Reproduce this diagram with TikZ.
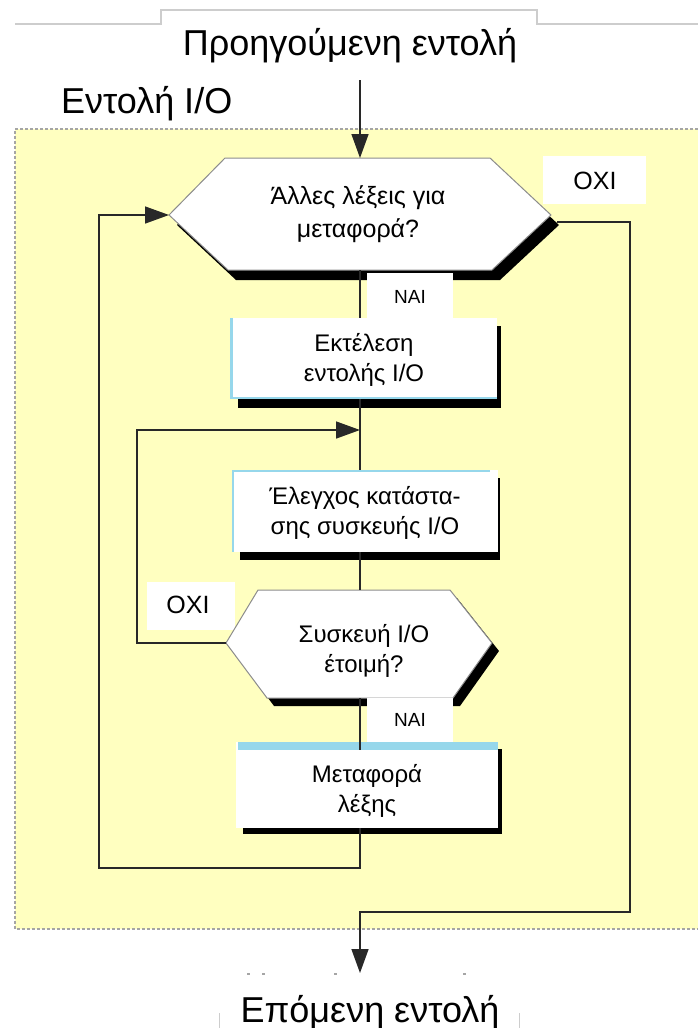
\documentclass[tikz,border=0pt]{standalone}
\usepackage{fontspec}
\setmainfont{Liberation Sans}
\usetikzlibrary{arrows.meta}

\definecolor{panel}{RGB}{255,255,192}
\definecolor{accent}{RGB}{150,215,235}
\definecolor{wire}{RGB}{40,40,40}
\definecolor{frame}{RGB}{140,140,140}
\definecolor{tabline}{RGB}{205,205,205}
\definecolor{dashgray}{RGB}{165,165,165}

\tikzset{
  flow/.style={draw=wire, line width=1.5pt},
  flowarrow/.style={flow, -{Triangle[length=24pt,width=17pt]}},
  hexface/.style={fill=white, draw=frame, line width=1pt},
  shade/.style={fill=black},
  bigtext/.style={font=\fontsize{36}{40}\selectfont, inner sep=0pt},
  boxtext/.style={font=\fontsize{24}{30}\selectfont, align=center, inner sep=0pt},
  tagtext/.style={font=\fontsize{19}{22}\selectfont, inner sep=0pt},
  notext/.style={font=\fontsize{25}{28}\selectfont, inner sep=0pt},
}

\begin{document}
\begin{tikzpicture}[x=1pt,y=-1pt]
\useasboundingbox (0,0) rectangle (698,1028);

% tab outline along the top edge
\draw[tabline, line width=1.3pt] (15,24) -- (161,24) -- (161,10) -- (537,10) -- (537,24) -- (698,24);

% shaded panel for the I/O instruction
\fill[panel] (15,129) rectangle (698,929);
\draw[dashgray, line width=1.5pt, dash pattern=on 3pt off 2pt] (698,129) -- (15,129) -- (15,929) -- (698,929);

% headings
\node[bigtext, anchor=base] (prev) at (350,55) {Προηγούμενη εντολή};
\node[bigtext, anchor=base west] (instr) at (61,113) {Εντολή I/O};
\node[bigtext, anchor=base] (next) at (370,1022) {Επόμενη εντολή};

% faint remains of the frame round the next instruction
\draw[tabline, line width=1pt] (219,1013) -- (219,1028);
\draw[tabline, line width=1pt] (519,1013) -- (519,1028);
\foreach \x in {248,263,335,464} \fill[dashgray] (\x-1.5,973) rectangle (\x+1.5,975);

% ---------- decision: more words to transfer ----------
\fill[shade] (233,168) -- (498,168) -- (559,225) -- (500,280) -- (236,280) -- (177,225) -- cycle;
\draw[hexface] (225,158) -- (490,158) -- (551,215) -- (492,270) -- (228,270) -- (169,215) -- cycle;
\node[boxtext, font=\fontsize{25}{33}\selectfont] (q1) at (358,214) {Άλλες λέξεις για\\μεταφορά?};
\coordinate (q1n) at (360,158);
\coordinate (q1s) at (360,270);
\coordinate (q1w) at (169,215);
\coordinate (q1e) at (557,222);

% tag YES below the first decision
\fill[white] (367,273) rectangle (453,318);
\node[tagtext] (yes1) at (410,297) {ΝΑΙ};
% tag NO right of the first decision
\fill[white] (543,156) rectangle (646,204);
\node[notext] (no1) at (595,181) {ΟΧΙ};

% ---------- process: execute I/O instruction ----------
\fill[shade] (238,326) rectangle (501,408);
\fill[white] (230,318) rectangle (497,399);
\draw[accent, line width=3pt] (231.5,318) -- (231.5,399);
\draw[accent, line width=2pt] (230,398) -- (497,398);
\node[boxtext] (exec) at (364,360) {Εκτέλεση\\εντολής I/O};
\coordinate (execn) at (360,318);
\coordinate (execs) at (360,399);

% ---------- process: check device status ----------
\fill[shade] (240,478) rectangle (500,560);
\fill[white] (232,470) rectangle (498,552);
\draw[accent, line width=2pt] (232,471) -- (490,471);
\draw[accent, line width=2pt] (233,470) -- (233,552);
\node[boxtext] (check) at (365,513) {Έλεγχος κατάστα-\\σης συσκευής  I/O};
\coordinate (checkn) at (360,470);
\coordinate (checks) at (360,552);

% ---------- decision: device ready ----------
\fill[white] (147,582) rectangle (235,630);
\node[notext] (no2) at (188,605) {ΟΧΙ};
\fill[shade] (265,598) -- (457,598) -- (499,651) -- (460,706) -- (274,706) -- (233,651) -- cycle;
\draw[hexface] (258,590) -- (450,590) -- (492,643) -- (453,698) -- (267,698) -- (226,643) -- cycle;
\node[boxtext] (q2) at (364,651) {Συσκευή  I/O\\έτοιμή?};
\coordinate (q2n) at (360,590);
\coordinate (q2s) at (360,698);
\coordinate (q2w) at (226,643);

% tag YES below the second decision
\fill[white] (367,698) rectangle (453,742);
\node[tagtext] (yes2) at (410,720) {ΝΑΙ};

% ---------- process: transfer word ----------
\fill[shade] (243,749) rectangle (502,834);
\fill[white] (236,742) rectangle (498,828);
\fill[accent] (238,742) rectangle (498,750);
\node[boxtext] (move) at (367,791) {Μεταφορά\\λέξης};
\coordinate (moven) at (360,750);
\coordinate (moves) at (360,828);

% ---------- connectors ----------
\coordinate (entry) at (360,80);
\coordinate (exit) at (360,973);
\coordinate (join) at (360,430);

\draw[flowarrow] (entry) -- (q1n);
\draw[flow] (q1s) -- (execn);
\draw[flow] (execs) -- (checkn);
\draw[flow] (checks) -- (q2n);
\draw[flow] (q2s) -- (moven);
% loop back to the first decision after a word is moved
\draw[flowarrow] (moves) -- (360,868) -- (99,868) -- (99,215) -- (q1w);
% wait loop while the device is not ready
\draw[flowarrow] (q2w) -- (137,643) -- (137,430) -- (join);
% no more words: leave the panel
\draw[flowarrow] (q1e) -- (630,222) -- (630,912) -- (360,912) -- (exit);
\end{tikzpicture}
\end{document}
